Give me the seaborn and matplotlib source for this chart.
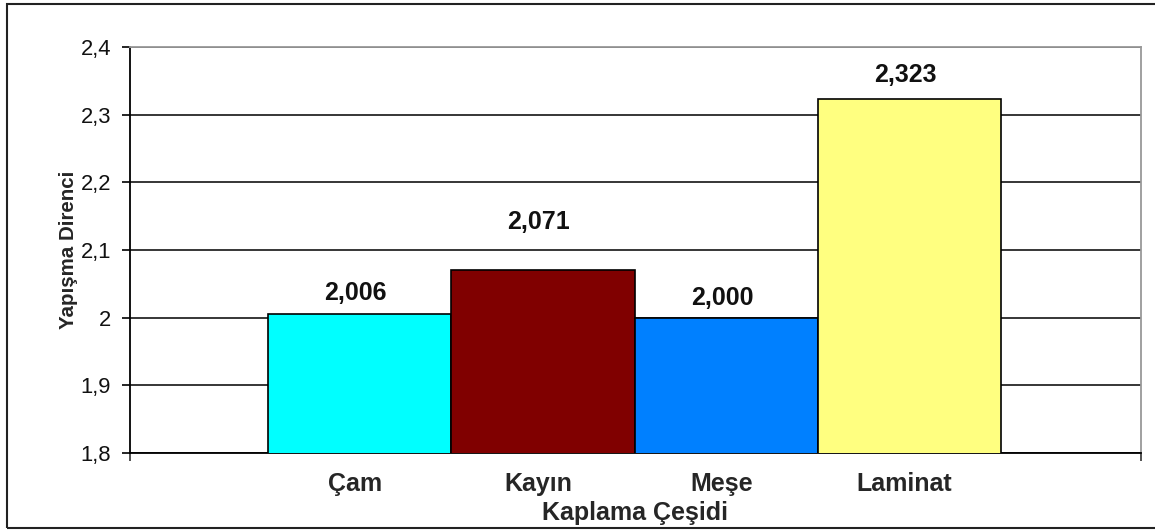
import matplotlib
matplotlib.use("Agg")
import matplotlib.pyplot as plt
import matplotlib.transforms as mtransforms
from matplotlib.patches import Rectangle
import seaborn as sns
import pandas as pd

# Bonding strength by veneer type
categories = ["Çam", "Kayın", "Meşe", "Laminat"]
values = [2.006, 2.071, 2.000, 2.323]
value_labels = ["2,006", "2,071", "2,000", "2,323"]
colors = ["#00FFFF", "#800000", "#0080FF", "#FFFF80"]
y_ticks = [1.8, 1.9, 2.0, 2.1, 2.2, 2.3, 2.4]
y_tick_labels = ["1,8", "1,9", "2", "2,1", "2,2", "2,3", "2,4"]
x_title = "Kaplama Çeşidi"
y_title = "Yapışma Direnci"

# vertical placement of each value label above its bar (points)
label_lift = [14.5, 34, 14, 17]

sns.set_theme(style="white")
plt.rcParams["font.family"] = ["Liberation Sans", "DejaVu Sans"]

W, H = 1155, 530
fig = plt.figure(figsize=(W / 100, H / 100), dpi=100)
fig.patch.set_facecolor("white")

# plot area in pixel coordinates
left, right, top, bottom = 130, 1140.5, 47, 453
ax = fig.add_axes([left / W, 1 - bottom / H, (right - left) / W, (bottom - top) / H])

df = pd.DataFrame({"kind": categories, "value": values})
sns.barplot(data=df, x="kind", y="value", hue="kind", palette=colors,
            width=1.0, dodge=False, legend=False, edgecolor="black",
            linewidth=1.2, saturation=1, ax=ax, zorder=3)

ax.set_ylim(1.8, 2.4)
ax.set_xlim(-1.254, 4.26)

ax.set_yticks(y_ticks)
ax.set_yticklabels(y_tick_labels, fontsize=15.8)
ax.yaxis.grid(True, color="black", linewidth=1.1, zorder=0)
ax.set_axisbelow(True)
ax.tick_params(axis="y", which="major", direction="out", length=5.5, width=1.2,
               color="black", pad=8, left=True, labelcolor="#111111")

# category axis: boundary ticks at the ends, labels at bar centres
ax.set_xticks([-1.254, 4.26])
ax.set_xticklabels(["", ""])
ax.tick_params(axis="x", which="major", direction="out", length=5.5, width=1.2,
               color="#333333", bottom=True)
ax.set_xticks(range(len(categories)), minor=True)
ax.set_xticklabels(categories, minor=True, fontsize=18, fontweight="bold")
ax.tick_params(axis="x", which="minor", length=0, pad=14)
shift = mtransforms.ScaledTranslation(-5 / 100, 0, fig.dpi_scale_trans)
for lbl in ax.get_xticklabels(minor=True):
    lbl.set_transform(lbl.get_transform() + shift)

ax.set_xlabel(x_title, fontsize=18, fontweight="bold", labelpad=3)
ax.set_ylabel(y_title, fontsize=14.8, fontweight="bold", labelpad=2)

for side in ["left", "bottom"]:
    ax.spines[side].set_color("black")
    ax.spines[side].set_linewidth(1.3)
for side in ["top", "right"]:
    ax.spines[side].set_color("#999999")
    ax.spines[side].set_linewidth(1.3)

# value labels above each bar
for i, (v, txt, lift) in enumerate(zip(values, value_labels, label_lift)):
    ax.annotate(txt, xy=(i, v), xytext=(-3, lift), textcoords="offset points",
                ha="center", va="center", fontsize=18, fontweight="bold",
                color="#111111", zorder=5)

# outer chart frame
fig.patches.append(Rectangle((7 / W, 1 - 528 / H), 1.2, (528 - 4) / H,
                             transform=fig.transFigure, fill=False,
                             edgecolor="#222222", linewidth=1.5))

fig.savefig("out.png", dpi=100, facecolor="white")
